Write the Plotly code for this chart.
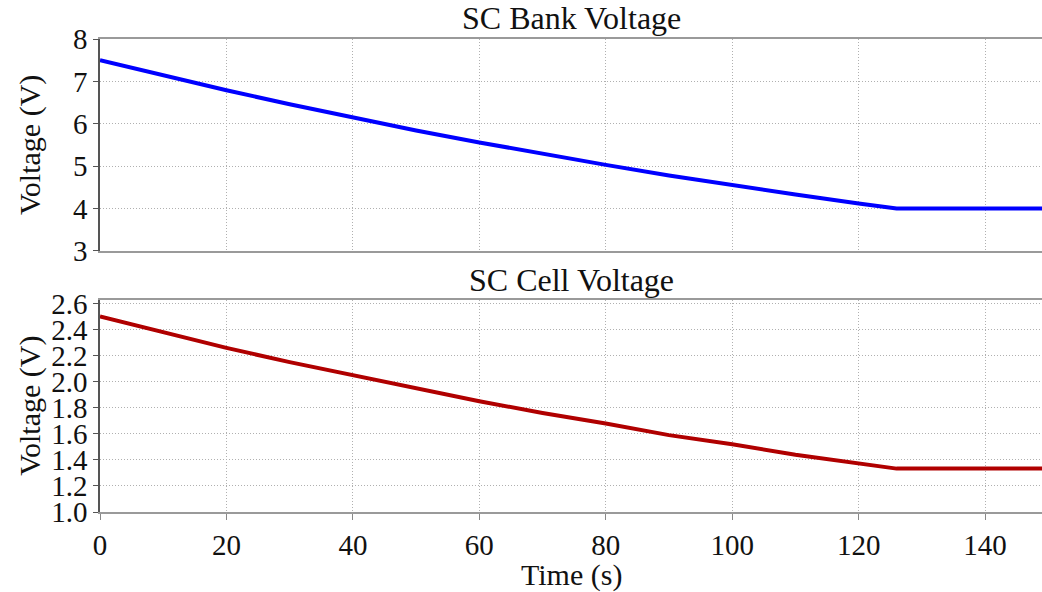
import plotly.graph_objects as go
from plotly.subplots import make_subplots

time_s = [0, 10, 20, 30, 40, 50, 60, 70, 80, 90, 100, 110, 120, 126, 149]
bank_v = [7.50, 7.14, 6.79, 6.46, 6.14, 5.84, 5.56, 5.29, 5.03, 4.78, 4.55, 4.33, 4.12, 4.00, 4.00]
cell_v = [2.50, 2.38, 2.26, 2.15, 2.05, 1.95, 1.85, 1.76, 1.68, 1.59, 1.52, 1.44, 1.37, 1.333, 1.333]
titles = ["SC Bank Voltage", "SC Cell Voltage"]
y_title = "Voltage (V)"
x_title = "Time (s)"
x_ticks = [0, 20, 40, 60, 80, 100, 120, 140]
bank_ticks = [3, 4, 5, 6, 7, 8]
cell_ticks = [1.0, 1.2, 1.4, 1.6, 1.8, 2.0, 2.2, 2.4, 2.6]

FONT = "Liberation Serif, Times New Roman, serif"
TXT = "#111"

fig = make_subplots(rows=2, cols=1, shared_xaxes=False)
fig.add_trace(go.Scatter(x=time_s, y=bank_v, mode="lines",
                         line=dict(color="#0000ff", width=4)), row=1, col=1)
fig.add_trace(go.Scatter(x=time_s, y=cell_v, mode="lines",
                         line=dict(color="#b00000", width=4)), row=2, col=1)

common_x = dict(range=[0, 149], showgrid=True, gridcolor="#b0b0b0", griddash="1px,2px",
                gridwidth=1, showline=True, mirror=True, linecolor="#9a9a9a",
                linewidth=1.5, zeroline=False, tickvals=x_ticks,
                tickfont=dict(size=29, family=FONT, color=TXT))
fig.update_xaxes(domain=[0, 1], showticklabels=False, ticks="", row=1, col=1, **common_x)
fig.update_xaxes(domain=[0, 1], ticks="outside", ticklen=6, tickcolor="#888",
                 row=2, col=1, **common_x)

common_y = dict(showgrid=True, gridcolor="#b0b0b0", griddash="1px,2px", gridwidth=1,
                showline=True, linecolor="#555", linewidth=1.5, zeroline=False,
                ticks="outside", ticklen=5, tickcolor="#555",
                tickfont=dict(size=29, family=FONT, color=TXT))
fig.update_yaxes(domain=[0.552, 1], range=[3, 8], tickvals=bank_ticks,
                 row=1, col=1, **common_y)
fig.update_yaxes(domain=[0, 0.449], range=[1.0, 2.63], tickvals=cell_ticks,
                 tickformat=".1f", row=2, col=1, **common_y)

ann = dict(xref="paper", yref="paper", showarrow=False, xanchor="center", yanchor="middle")
# subplot titles
fig.add_annotation(text=titles[0], x=0.5, y=1.044,
                   font=dict(size=32, family=FONT, color=TXT), **ann)
fig.add_annotation(text=titles[1], x=0.5, y=0.490,
                   font=dict(size=32, family=FONT, color=TXT), **ann)
# axis titles
for yc in (0.776, 0.2245):
    fig.add_annotation(text=y_title, x=-0.0743, y=yc, textangle=-90,
                       font=dict(size=30, family=FONT, color=TXT), **ann)
fig.add_annotation(text=x_title, x=0.5, y=-0.133,
                   font=dict(size=30, family=FONT, color=TXT), **ann)

fig.update_layout(width=1042, height=592, margin=dict(l=100, r=0, t=39, b=80),
                  paper_bgcolor="white", plot_bgcolor="white", showlegend=False,
                  font=dict(family=FONT, size=29, color=TXT))

fig.write_html("out.html", config={"displayModeBar": False},
               post_script="document.body.style.margin='0';document.body.style.overflow='hidden';")
